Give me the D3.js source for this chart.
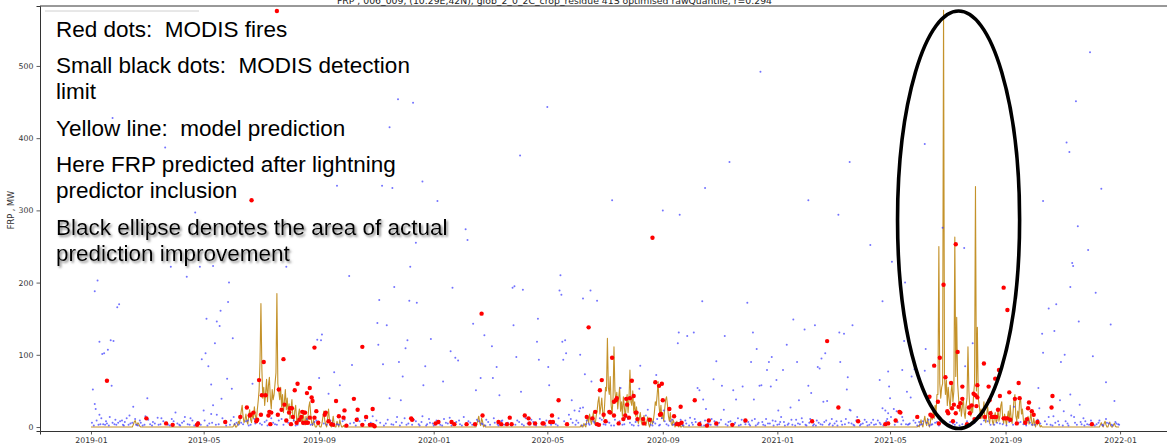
<!DOCTYPE html>
<html>
<head>
<meta charset="utf-8">
<script src="https://cdn.jsdelivr.net/npm/d3@7"></script>
<style>
  html, body { margin: 0; padding: 0; background: #fff; overflow: hidden; }
  svg { display: block; }
  .tick text { font-family: "DejaVu Sans", sans-serif; font-size: 7.8px; fill: #333; }
  .note { font-family: "Liberation Sans", Arial, sans-serif; font-size: 22.5px; fill: #000; white-space: pre; }
</style>
</head>
<body>
<svg id="chart" width="1167" height="445"></svg>
<script>
// ---- data -------------------------------------------------------------
// Day offsets are counted from 2019-01-01.
const startDate = "2019-01-01";
const yTicks = [0, 100, 200, 300, 400, 500];
const xTickLabels = ["2019-01", "2019-05", "2019-09", "2020-01", "2020-05", "2020-09",
                     "2021-01", "2021-05", "2021-09", "2022-01"];
const seriesEndDay = 1095;

// Model prediction (FRP, MW): daily values during the active spells, zero elsewhere.
const predFeb2019 = [0, 3, 7, 9, 5, 2, 6, 4, 1, 0];
const predSummer2019 = [
  0, 0, 2, 5, 0, 0, 3, 8, 4, 12,
  22, 30, 14, 6, 10, 18, 8, 4, 15, 24,
  10, 6, 20, 12, 28, 16, 9, 22, 35, 50,
  90, 171, 80, 40, 55, 30, 48, 66, 35, 58,
  69, 40, 25, 52, 38, 45, 60, 75, 185, 60,
  50, 38, 55, 28, 45, 20, 36, 52, 24, 40,
  18, 32, 12, 26, 38, 15, 8, 22, 30, 10,
  5, 18, 25, 8, 14, 4, 20, 10, 3, 15,
  6, 12, 28, 35, 18, 6, 2, 10, 4, 0,
  0, 3, 8, 2, 0, 0, 5, 14, 22, 9,
  3, 0, 12, 25, 10, 2, 0, 6, 15, 4,
  0, 0, 8, 3, 0, 10, 4, 0, 0, 2,
  0];
const predFeb2020 = [0, 4, 10, 15, 6, 2, 12, 8, 0, 3, 0];
const predSummer2020 = [
  0, 0, 3, 0, 0, 5, 2, 0, 8, 14,
  6, 18, 10, 4, 12, 20, 8, 3, 15, 22,
  35, 42, 18, 28, 40, 20, 12, 30, 55, 50,
  123, 55, 45, 70, 30, 18, 40, 111, 50, 35,
  48, 25, 40, 55, 22, 35, 15, 42, 28, 12,
  30, 45, 20, 40, 79, 35, 30, 50, 22, 35,
  15, 28, 10, 5, 12, 20, 8, 3, 10, 16,
  6, 2, 8, 14, 4, 0, 6, 12, 4, 10,
  20, 35, 30, 45, 63, 30, 15, 30, 12, 20,
  8, 25, 38, 42, 30, 15, 8, 20, 5, 2,
  10, 6, 0, 4, 8, 2, 0, 5, 0, 0,
  3, 0];
const predSummer2021 = [
  0, 2, 0, 5, 10, 3, 0, 8, 15, 6,
  2, 12, 4, 0, 7, 18, 10, 25, 12, 30,
  20, 45, 45, 250, 60, 40, 55, 60, 577, 70,
  45, 65, 30, 55, 38, 25, 48, 60, 35, 50,
  263, 70, 152, 60, 40, 22, 35, 15, 28, 40,
  20, 12, 30, 40, 111, 50, 25, 15, 30, 20,
  45, 60, 333, 50, 138, 40, 30, 18, 25, 12,
  20, 35, 10, 6, 18, 28, 12, 5, 15, 22,
  8, 3, 12, 20, 6, 10, 25, 8, 15, 30,
  35, 12, 5, 18, 10, 3, 14, 22, 8, 30,
  12, 5, 20, 38, 45, 15, 8, 22, 12, 35,
  40, 18, 25, 10, 5, 12, 3, 8, 15, 4,
  10, 20, 6, 2, 12, 5, 0, 8, 3, 10,
  4, 0, 2, 0];
const predNov2021 = [0, 3, 6, 2, 0, 5, 8, 3, 0, 0, 4, 7, 2, 0, 0, 3, 5, 1, 0];
const predictionSpells = [
  [44, predFeb2019], [150, predSummer2019], [410, predFeb2020],
  [520, predSummer2020], [880, predSummer2021], [1074, predNov2021]
];

// MODIS fire observations [day, FRP].
const modisFires = [
  [17,64],[59,12],[80,5],[87,3],[113,3],[114,5],[143,7],
  [159,14],[166,27],[169,16],[170,17],[171,314],[173,20],[176,8],[177,10],[179,65],[181,17],[182,44],
  [184,90],[186,44],[189,16],[190,21],[191,4],[192,20],[198,576],[199,17],[200,52],[203,24],[205,94],
  [206,31],[208,9],[211,20],[212,26],[213,4],[214,26],[215,14],[217,51],[219,6],[220,60],[222,10],
  [224,14],[225,21],[226,6],[227,20],[228,20],[229,6],[230,47],[231,6],[233,54],[233,13],[235,41],
  [236,36],[238,13],[238,110],[240,22],[242,6],[249,17],[250,20],[253,8],[256,4],[258,3],[261,36],
  [264,15],[269,13],[270,23],[272,2],[280,39],[283,10],[284,24],[289,111],[289,3],[293,14],[297,3],
  [300,3],[300,25],[302,1],[341,12],[342,10],[367,5],[370,7],[384,7],[387,4],[400,4],[409,4],
  [416,157],[417,16],[434,7],[437,4],[443,4],[446,13],[448,4],[462,16],[466,12],[467,5],[473,5],
  [481,5],[482,5],[489,7],[491,16],[492,7],[498,37],[507,4],
  [528,14],[530,138],[534,12],[537,21],[539,4],[541,3],[542,51],[544,65],[546,17],[548,8],[552,21],
  [553,20],[555,96],[557,16],[557,35],[559,37],[560,40],[562,5],[567,11],[569,16],[570,39],[571,31],
  [573,13],[574,40],[576,64],[578,43],[580,20],[581,20],[582,11],[588,11],[589,5],[595,10],[598,262],
  [601,62],[605,57],[606,17],[607,18],[608,60],[609,37],[616,25],[621,15],[624,4],[626,4],[628,28],
  [629,6],[643,37],[648,4],[656,2],[658,9],[666,5],[683,3],[697,9],[768,8],[784,119],[796,27],[817,8],
  [846,4],[849,5],[857,9],[861,21],[862,20],[880,14],[893,42],[894,17],[896,15],[898,85],[902,35],
  [903,5],[904,96],[908,197],[910,69],[912,22],[913,19],[916,61],[917,26],[918,8],[919,31],[921,253],
  [921,19],[923,104],[924,28],[926,33],[928,56],[928,39],[933,4],[935,27],[936,19],[938,30],[940,46],
  [941,11],[942,44],[943,29],[944,41],[944,58],[946,14],[951,88],[952,14],[956,56],[957,37],[958,19],
  [959,14],[961,14],[962,14],[963,67],[964,14],[966,24],[967,79],[968,43],[972,193],[972,12],[974,12],
  [976,162],[976,12],[978,48],[979,10],[984,39],[986,5],[988,61],[989,40],[995,6],[997,11],[998,26],
  [999,34],[1002,22],[1004,17],[1008,7],[1023,27],[1024,43],[1066,4]
];

// MODIS detection limit [day, FRP]: scattered values.
const detectionLimit = [
  [2,52],[4,188],[4,32],[5,25],[7,203],[8,3],[9,118],[9,17],[12,101],[13,4],[14,102],[17,5],[18,107],
  [21,120],[22,57],[23,428],[23,6],[24,119],[28,166],[30,170],[31,8],[35,2],[38,12],[42,5],[45,28],
  [48,3],[52,9],[55,2],[58,15],[60,40],[63,4],[66,7],[70,333],[72,3],[75,12],[79,387],[80,5],[84,2],
  [85,222],[88,8],[90,20],[94,3],[97,6],[100,14],[102,208],[105,3],[108,9],[111,297],[112,4],[116,222],
  [118,94],[120,23],[122,102],[123,150],[125,84],[126,5],[128,59],[128,18],[130,223],[130,30],[132,116],
  [134,146],[134,17],[136,4],[137,140],[138,161],[139,39],[142,7],[145,67],[146,173],[147,200],[148,3],
  [150,53],[151,123],[152,14],[155,6],
  [159,12],[162,4],[165,8],[168,2],[172,60],[175,5],[178,10],[182,3],[185,7],[188,2],[192,12],[196,4],
  [200,9],[205,3],[208,222],[210,6],[214,14],[218,2],[222,8],[226,4],[230,11],[234,3],[238,7],[241,121],
  [243,68],[245,120],[246,128],[248,5],[253,46],[255,9],[259,76],[262,334],[262,4],[265,58],[268,8],
  [272,3],[275,209],[278,86],[280,6],[284,12],[288,3],[292,9],[296,4],[300,15],
  [302,3],[305,144],[306,114],[307,176],[308,6],[310,334],[311,87],[312,2],[315,141],[316,10],[318,40],
  [318,415],[320,4],[321,331],[323,194],[325,7],[327,454],[328,90],[329,2],[330,37],[332,70],[334,12],
  [335,109],[337,120],[338,5],[339,175],[340,222],[342,3],[343,449],[346,255],[346,8],[347,172],[350,2],
  [353,340],[353,15],[354,58],[356,84],[358,4],[361,6],[362,122],[365,2],[368,9],[369,313],[372,3],
  [375,63],[376,11],[380,5],[383,105],[384,2],[385,193],[388,96],[389,7],[391,92],[393,4],[397,14],
  [399,274],[400,3],[401,259],[404,6],[407,143],[409,2],[410,51],[413,8],[415,68],[417,4],[419,127],
  [421,10],[425,3],[427,112],[428,68],[430,6],[432,83],[434,2],[435,44],[438,9],[442,4],[446,12],
  [449,193],[450,141],[451,195],[452,3],[453,97],[456,7],[457,376],[458,49],[460,190],[461,2],[465,5],
  [469,10],[472,3],[475,118],[476,150],[477,93],[480,6],[484,2],[486,443],[487,83],[488,58],[491,8],
  [495,4],[498,12],[499,189],[500,210],[501,183],[502,118],[503,93],[505,120],[506,102],[508,3],[509,17],
  [512,37],[513,6],[515,23],[517,9],[520,22],[521,100],[521,26],[524,178],[524,27],[526,73],[527,4],
  [530,5],[532,189],[533,63],[535,8],[538,3],[539,175],[542,12],[546,4],[550,7],[554,2],[555,314],
  [558,10],[561,5],[564,54],[566,3],[570,14],[574,6],[578,2],[581,9],[584,53],[585,85],[588,4],[591,16],
  [593,24],[596,3],[599,7],[602,72],[603,11],[605,2],[608,12],[609,300],[610,23],[613,4],[617,8],[620,3],
  [623,6],[625,116],[626,131],[627,294],[628,10],[631,2],[634,5],[635,126],[638,13],[641,3],[642,131],
  [644,7],[646,54],[648,51],[650,2],[651,174],[652,38],[654,9],[654,331],[655,25],[658,4],[661,11],
  [663,66],[665,3],[666,91],[669,6],[672,57],[674,24],[675,126],[678,2],[680,367],[681,8],[684,51],
  [685,4],[687,38],[689,12],[692,3],[694,56],[696,7],[699,172],
  [701,4],[703,90],[704,9],[705,131],[706,38],[708,2],[709,108],[711,6],[712,57],[713,492],[714,58],
  [716,3],[719,11],[720,79],[722,90],[723,5],[724,56],[725,97],[727,2],[729,8],[730,65],[732,23],[733,4],
  [735,14],[737,79],[738,7],[741,114],[742,3],[745,27],[746,10],[748,149],[750,2],[752,90],[753,5],
  [754,37],[757,12],[760,135],[761,3],[764,57],[764,314],[765,6],[767,47],[769,2],[771,141],[773,9],
  [774,83],[776,81],[777,4],[778,95],[780,35],[781,7],[782,102],[784,36],[786,3],[789,11],[792,5],
  [795,2],[796,294],[797,131],[798,90],[799,8],[802,129],[803,4],[805,52],[806,69],[807,6],[808,24],
  [808,367],[809,23],[811,141],[812,3],[815,9],[816,14],[819,2],[822,5],[826,7],[829,3],[830,252],
  [833,10],[836,4],
  [840,65],[840,6],[843,174],[843,26],[846,23],[847,8],[849,77],[849,19],[850,56],[851,40],[852,14],
  [853,229],[855,25],[858,22],[862,20],[864,79],[864,14],[866,119],[867,200],[868,4],[869,49],[870,3],
  [872,5],[873,41],[874,70],[877,80],[878,6],[883,3],[886,8],[888,392],[888,78],[889,108],[893,2],
  [896,4],[901,7],[907,276],[912,3],[918,5],[925,2],[930,248],[931,84],[939,116],[945,12],[954,33],
  [955,8],[962,3],[968,5],[975,2],[980,9],[983,28],[985,4],[990,7],[996,2],[1000,6],[1005,3],[1008,10],
  [1009,54],[1010,26],[1013,129],[1014,313],[1014,103],[1018,4],[1020,164],[1020,14],[1024,2],[1025,15],
  [1026,133],[1028,170],[1030,8],[1032,37],[1033,90],[1035,2],[1036,22],[1037,100],[1039,394],[1040,5],
  [1042,381],[1043,194],[1043,45],[1044,16],[1045,227],[1046,223],[1047,14],[1049,451],[1050,3],
  [1051,278],[1052,146],[1053,31],[1054,7],[1057,12],[1058,2],[1061,4],[1062,245],[1064,519],[1065,9],
  [1067,98],[1069,2],[1070,186],[1073,6],[1076,330],[1077,3],[1081,62],[1081,11],[1084,5],[1086,142],
  [1088,2],[1090,36],[1091,7],[1094,4]
];

// MODIS detection limit [day, FRP]: the dense band close to zero.
const detectionLimitLow = [
  [1,6],[3,2],[6,9],[10,4],[11,12],[15,3],[16,8],[19,2],[20,14],[25,4],[26,10],[27,3],[29,6],[33,9],
  [34,3],[36,7],[40,3],[41,16],[44,6],[47,11],[50,2],[53,6],[57,3],[61,10],[65,2],[68,5],[71,13],[74,4],
  [77,8],[82,3],[86,11],[92,5],[95,2],[99,8],[103,4],[106,12],[110,2],[114,7],[117,3],[121,9],[124,2],
  [129,6],[133,3],[140,12],[144,2],[149,9],[153,4],[157,3],[160,6],[167,9],[170,3],[174,11],[180,5],
  [187,9],[194,6],[198,3],[203,11],[212,5],[216,9],[220,3],[228,6],[232,14],[236,4],[240,9],[251,3],
  [257,6],[264,3],[270,10],[276,5],[282,2],[286,8],[290,3],[294,12],[298,6],[304,9],[314,5],[322,3],
  [326,14],[331,6],[336,3],[344,10],[349,4],[352,7],[357,2],[360,11],[364,5],[367,3],[371,8],[374,2],
  [378,6],[382,13],[387,3],[392,9],[395,2],[402,8],[406,3],[411,10],[416,5],[420,2],[423,7],[429,12],
  [433,4],[437,8],[440,3],[444,6],[448,2],[454,9],[459,4],[463,12],[467,3],[471,7],[474,2],[478,11],
  [482,4],[485,9],[490,3],[493,6],[497,2],[504,8],[507,4],[511,11],[516,3],[519,6],[523,2],[528,9],
  [531,3],[536,6],[540,2],[544,10],[548,3],[552,6],[557,2],[563,8],[568,4],[572,11],[576,3],[580,7],
  [583,2],[587,12],[590,5],[595,8],[598,2],[601,5],[606,3],[611,8],[615,2],[619,10],[622,4],[627,6],
  [630,3],[633,9],[637,2],[640,6],[643,11],[647,3],[649,7],[653,2],[657,5],[660,3],[664,8],[667,2],
  [671,10],[676,4],[679,7],[683,3],[686,6],[690,2],[693,10],[697,4],[700,7],[702,2],[707,11],[710,4],
  [715,7],[718,2],[721,5],[726,9],[731,3],[734,7],[739,2],[743,5],[747,3],[751,10],[755,4],[758,7],
  [762,2],[766,11],[770,4],[772,2],[775,6],[779,3],[783,9],[787,5],[790,2],[794,8],[800,3],[804,11],
  [810,5],[813,2],[817,8],[820,4],[824,10],[827,2],[831,6],[834,3],[838,9],[841,4],[844,2],[848,11],
  [856,3],[859,7],[863,4],[865,9],[871,4],[876,9],[880,2],[882,7],[885,4],[890,6],[892,10],[895,3],
  [899,6],[903,2],[906,9],[910,4],[915,7],[920,3],[922,6],[928,4],[933,8],[936,3],[941,6],[948,4],
  [951,9],[958,3],[965,6],[971,4],[978,7],[982,3],[988,6],[993,4],[998,9],[1002,3],[1011,5],[1016,8],
  [1022,3],[1027,6],[1031,3],[1038,8],[1041,2],[1048,6],[1055,4],[1059,8],[1063,3],[1066,6],[1071,4],
  [1074,9],[1078,2],[1082,6],[1087,3],[1092,5],[1095,3]
];

// Region of improved prediction: centre [day, FRP] and half-extents [days, FRP].
const improvementCentre = [924, 287];
const improvementRadius = [65, 289];

const titleText = "FRP , 006_009, (10.29E,42N), glob_2_0_2C_crop_residue 41S optimised rawQuantile, r=0.294";
const noteLines = [
  "Red dots:  MODIS fires",
  "Small black dots:  MODIS detection",
  "limit",
  "Yellow line:  model prediction",
  "Here FRP predicted after lightning",
  "predictor inclusion",
  "Black ellipse denotes the area of actual",
  "prediction improvement"
];

// ---- scales -----------------------------------------------------------
const t0 = d3.utcParse("%Y-%m-%d")(startDate).getTime();
const asDate = d => new Date(t0 + d * 864e5);
const parseMonth = d3.utcParse("%Y-%m");

const svg = d3.select("#chart");
const plot = { left: 40, right: 1172, top: 6, bottom: 431 };

const x = d3.scaleUtc()
  .domain([asDate(-54.3), asDate(seriesEndDay + 56.3)])
  .range([plot.left, plot.right]);
const y = d3.scaleLinear()
  .domain([-5.5, 583])
  .range([plot.bottom, plot.top]);

// ---- marks ------------------------------------------------------------
const defs = svg.append("defs");
defs.append("clipPath").attr("id", "plotclip")
  .append("rect").attr("x", plot.left).attr("y", plot.top)
  .attr("width", plot.right - plot.left).attr("height", plot.bottom - plot.top);

const shadow = defs.append("filter").attr("id", "textshadow")
  .attr("x", "-5%").attr("y", "-30%").attr("width", "115%").attr("height", "180%");
shadow.append("feDropShadow").attr("dx", 1.6).attr("dy", 1.8)
  .attr("stdDeviation", 1.1).attr("flood-color", "#777").attr("flood-opacity", 0.9);

const g = svg.append("g").attr("clip-path", "url(#plotclip)");

// prediction line
const predPoints = [[0, 0]];
predictionSpells.forEach(([start, vals]) => vals.forEach((v, i) => predPoints.push([start + i, v])));
predPoints.push([seriesEndDay, 0]);

g.append("path")
  .datum(predPoints)
  .attr("fill", "none")
  .attr("stroke", "#c4922a")
  .attr("stroke-width", 1.1)
  .attr("stroke-linejoin", "round")
  .attr("d", d3.line().x(d => x(asDate(d[0]))).y(d => y(d[1])));

// detection limit
g.append("g").selectAll("circle")
  .data(detectionLimit.concat(detectionLimitLow)).join("circle")
  .attr("cx", d => x(asDate(d[0])))
  .attr("cy", d => y(d[1]))
  .attr("r", 1.0)
  .attr("fill", "#3c3cff")
  .attr("fill-opacity", 0.72);

// fires
g.append("g").selectAll("circle")
  .data(modisFires).join("circle")
  .attr("cx", d => x(asDate(d[0])))
  .attr("cy", d => y(d[1]))
  .attr("r", 2.2)
  .attr("fill", "#ff0000");

// ---- axes -------------------------------------------------------------
const yAxis = svg.append("g")
  .attr("transform", `translate(${plot.left},0)`)
  .call(d3.axisLeft(y).tickValues(yTicks).tickSize(3.5).tickPadding(3));
const xAxis = svg.append("g")
  .attr("transform", `translate(0,${plot.bottom})`)
  .call(d3.axisBottom(x).tickValues(xTickLabels.map(parseMonth))
    .tickFormat(d3.utcFormat("%Y-%m")).tickSize(3.5).tickPadding(3));
[yAxis, xAxis].forEach(a => {
  a.select(".domain").attr("stroke", "#333").attr("stroke-width", 1);
  a.selectAll(".tick line").attr("stroke", "#333").attr("stroke-width", 0.8);
});
svg.append("line")
  .attr("x1", plot.left).attr("x2", plot.right)
  .attr("y1", plot.top).attr("y2", plot.top)
  .attr("stroke", "#333").attr("stroke-width", 1);

svg.append("text")
  .attr("transform", "translate(14,210) rotate(-90)")
  .attr("text-anchor", "middle")
  .style("font-family", "DejaVu Sans, sans-serif")
  .style("font-size", "8.2px")
  .attr("fill", "#333")
  .text("FRP , MW");

svg.append("text")
  .attr("x", 337).attr("y", 3.5)
  .style("font-family", "DejaVu Sans, sans-serif")
  .style("font-size", "9.3px")
  .attr("fill", "#222")
  .text(titleText);

// legend frame edge
svg.append("line")
  .attr("x1", 45).attr("x2", 199).attr("y1", 11).attr("y2", 11)
  .attr("stroke", "#d0d0d0").attr("stroke-width", 1);

// ---- annotations ------------------------------------------------------
const cx = x(asDate(improvementCentre[0]));
const cy = y(improvementCentre[1]);
svg.append("ellipse")
  .attr("cx", cx).attr("cy", cy)
  .attr("rx", x(asDate(improvementCentre[0] + improvementRadius[0])) - cx)
  .attr("ry", y(improvementCentre[1] - improvementRadius[1]) - cy)
  .attr("fill", "none")
  .attr("stroke", "#000")
  .attr("stroke-width", 3.6);

const baselines = [36.7, 72.7, 99.3, 136, 171.7, 198.3, 235, 261];
svg.append("g").selectAll("text")
  .data(noteLines).join("text")
  .attr("class", "note")
  .attr("xml:space", "preserve")
  .attr("x", 56)
  .attr("y", (d, i) => baselines[i])
  .attr("filter", (d, i) => i >= 6 ? "url(#textshadow)" : null)
  .text(d => d);
</script>
</body>
</html>
